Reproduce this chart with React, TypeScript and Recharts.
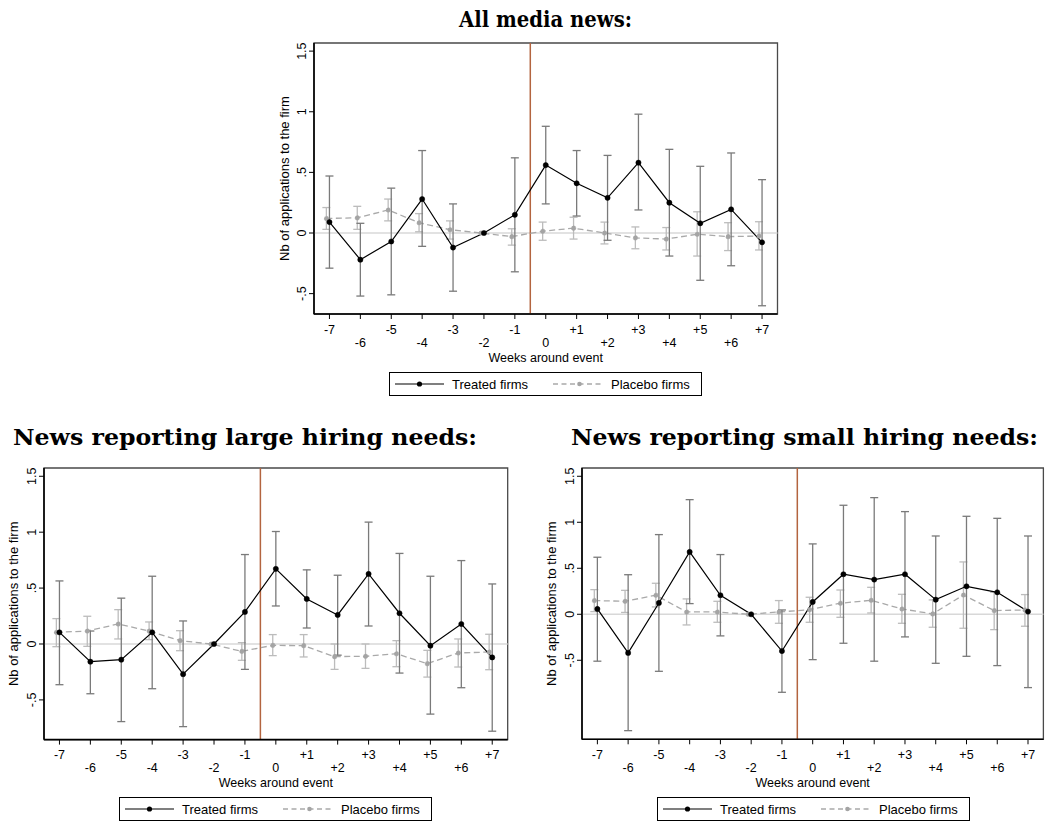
import React from 'react';
import {
  ComposedChart,
  Line,
  XAxis,
  YAxis,
  ErrorBar,
  ReferenceLine,
  ReferenceArea,
} from 'recharts';

const weeks = [-7, -6, -5, -4, -3, -2, -1, 0, 1, 2, 3, 4, 5, 6, 7];
const weekLabels = ['-7', '-6', '-5', '-4', '-3', '-2', '-1', '0', '+1', '+2', '+3', '+4', '+5', '+6', '+7'];
const yTicks = [-0.5, 0, 0.5, 1, 1.5];
const yTickLabels = ['-.5', '0', '.5', '1', '1.5'];

// All media news
const allTreated = [0.09, -0.22, -0.07, 0.28, -0.12, 0, 0.15, 0.56, 0.41, 0.29, 0.58, 0.25, 0.08, 0.195, -0.077];
const allTreatedLo = [-0.29, -0.52, -0.51, -0.11, -0.48, null, -0.32, 0.24, 0.14, -0.06, 0.19, -0.19, -0.39, -0.27, -0.6];
const allTreatedHi = [0.47, 0.08, 0.37, 0.68, 0.24, null, 0.62, 0.88, 0.68, 0.64, 0.98, 0.69, 0.55, 0.66, 0.44];
const allPlacebo = [0.12, 0.125, 0.19, 0.085, 0.027, 0, -0.03, 0.015, 0.04, 0, -0.04, -0.05, -0.01, -0.03, -0.025];
const allPlaceboLo = [0.03, 0.03, 0.1, 0.01, -0.05, null, -0.1, -0.06, -0.05, -0.09, -0.13, -0.14, -0.19, -0.145, -0.14];
const allPlaceboHi = [0.21, 0.22, 0.28, 0.16, 0.1, null, 0.035, 0.09, 0.13, 0.09, 0.05, 0.045, 0.175, 0.085, 0.093];

// Large hiring needs
const largeTreated = [0.104, -0.158, -0.14, 0.104, -0.27, 0, 0.287, 0.672, 0.403, 0.26, 0.627, 0.275, -0.015, 0.179, -0.12];
const largeTreatedLo = [-0.364, -0.445, -0.694, -0.4, -0.739, null, -0.227, 0.34, 0.143, -0.1, 0.161, -0.26, -0.627, -0.391, -0.78];
const largeTreatedHi = [0.564, 0.116, 0.41, 0.606, 0.206, null, 0.8, 1.006, 0.663, 0.615, 1.09, 0.81, 0.606, 0.746, 0.537];
const largePlacebo = [0.104, 0.116, 0.179, 0.116, 0.03, 0, -0.066, -0.012, -0.015, -0.113, -0.11, -0.087, -0.176, -0.08, -0.072];
const largePlaceboLo = [-0.024, -0.021, 0.045, 0.039, -0.06, null, -0.146, -0.104, -0.116, -0.227, -0.218, -0.203, -0.296, -0.206, -0.23];
const largePlaceboHi = [0.227, 0.248, 0.307, 0.197, 0.119, null, 0.012, 0.084, 0.084, 0, 0, 0.03, -0.057, 0.045, 0.087];

// Small hiring needs
const smallTreated = [0.058, -0.42, 0.123, 0.678, 0.207, 0, -0.4, 0.134, 0.435, 0.377, 0.435, 0.159, 0.304, 0.239, 0.029];
const smallTreatedLo = [-0.51, -1.265, -0.62, 0.116, -0.235, null, -0.848, -0.493, -0.315, -0.51, -0.246, -0.533, -0.457, -0.558, -0.797];
const smallTreatedHi = [0.62, 0.43, 0.866, 1.246, 0.649, null, 0.047, 0.765, 1.185, 1.268, 1.116, 0.851, 1.065, 1.043, 0.851];
const smallPlacebo = [0.149, 0.141, 0.207, 0.025, 0.025, 0, 0.025, 0.05, 0.12, 0.152, 0.058, 0.004, 0.21, 0.04, 0.047];
const smallPlaceboLo = [0.029, 0.02, 0.08, -0.116, -0.087, null, -0.098, -0.087, -0.033, 0.014, -0.098, -0.141, -0.152, -0.167, -0.13];
const smallPlaceboHi = [0.268, 0.26, 0.337, 0.167, 0.141, null, 0.149, 0.185, 0.264, 0.293, 0.217, 0.156, 0.569, 0.239, 0.214];

const SANS = '"Liberation Sans", Arial, Helvetica, sans-serif';
const SERIF = '"DejaVu Serif", "Liberation Serif", serif';
const EVENT_COLOR = '#b3643f';
const PLACEBO_SHIFT = -0.1;
const Y_AXIS_W = 60;
const X_AXIS_H = 52;
const TOP_PAD = 5;
const AXIS_FONT = 12.5;

const buildSeries = (vals: number[], lo: (number | null)[], hi: (number | null)[], shift: number) =>
  weeks.map((w, i) => ({
    x: w + shift,
    y: vals[i],
    err: lo[i] == null || hi[i] == null ? undefined : [vals[i] - (lo[i] as number), (hi[i] as number) - vals[i]],
  }));

// odd weeks on the first row, even weeks on the second row
const WeekTick = (props: any) => {
  const { x, y, payload } = props;
  const idx = weeks.indexOf(payload.value);
  const secondRow = Math.abs(payload.value) % 2 === 0;
  return (
    <text x={x} y={y} dy={secondRow ? 25.5 : 12.5} textAnchor="middle" fontSize={AXIS_FONT} fontFamily={SANS} fill="#000">
      {weekLabels[idx]}
    </text>
  );
};

const ValueTick = (props: any) => {
  const { x, y, payload } = props;
  const idx = yTicks.indexOf(payload.value);
  return (
    <text x={x} y={y} transform={`rotate(-90 ${x} ${y})`} textAnchor="middle" fontSize={AXIS_FONT} fontFamily={SANS} fill="#000">
      {yTickLabels[idx]}
    </text>
  );
};

type PanelProps = {
  x0: number;
  x1: number;
  y0: number;
  y1: number;
  yDomain: [number, number];
  treated: number[];
  treatedLo: (number | null)[];
  treatedHi: (number | null)[];
  placebo: number[];
  placeboLo: (number | null)[];
  placeboHi: (number | null)[];
};

const Panel = (p: PanelProps) => {
  const plotW = p.x1 - p.x0;
  const plotH = p.y1 - p.y0;
  const width = plotW + Y_AXIS_W + 2;
  const height = plotH + TOP_PAD + X_AXIS_H;
  const treatedData = buildSeries(p.treated, p.treatedLo, p.treatedHi, 0);
  const placeboData = buildSeries(p.placebo, p.placeboLo, p.placeboHi, PLACEBO_SHIFT);

  return (
    <div style={{ position: 'absolute', left: p.x0 - Y_AXIS_W, top: p.y0 - TOP_PAD }}>
      <ComposedChart width={width} height={height} margin={{ top: TOP_PAD, right: 2, bottom: 0, left: 0 }}>
        <XAxis
          type="number"
          dataKey="x"
          domain={[-7.5, 7.5]}
          ticks={weeks}
          interval={0}
          allowDataOverflow
          height={X_AXIS_H}
          tickSize={5}
          tickMargin={2}
          tick={<WeekTick />}
          axisLine={{ stroke: '#000', strokeWidth: 1.6 }}
          tickLine={{ stroke: '#000', strokeWidth: 1 }}
          label={(lp: any) => {
            const vb = lp.viewBox || {};
            return (
              <text x={vb.x + vb.width / 2} y={vb.y + 47.5} textAnchor="middle" fontSize={AXIS_FONT} fontFamily={SANS} fill="#000">
                Weeks around event
              </text>
            );
          }}
        />
        <YAxis
          type="number"
          domain={p.yDomain}
          ticks={yTicks}
          interval={0}
          allowDataOverflow
          width={Y_AXIS_W}
          tickSize={5}
          tickMargin={3}
          tick={<ValueTick />}
          axisLine={{ stroke: '#000', strokeWidth: 1.6 }}
          tickLine={{ stroke: '#000', strokeWidth: 1 }}
          label={(lp: any) => {
            const vb = lp.viewBox || {};
            const bx = vb.x + vb.width - 25.5;
            const by = vb.y + vb.height / 2;
            return (
              <text x={bx} y={by} transform={`rotate(-90 ${bx} ${by})`} textAnchor="middle" fontSize={13} fontFamily={SANS} fill="#000">
                Nb of applications to the firm
              </text>
            );
          }}
        />
        <ReferenceArea
          x1={-7.5}
          x2={7.5}
          y1={p.yDomain[0]}
          y2={p.yDomain[1]}
          fill="none"
          fillOpacity={0}
          stroke="#4a4a4a"
          strokeWidth={1.3}
          ifOverflow="visible"
        />
        <ReferenceLine y={0} stroke="#d8d8d8" strokeWidth={1.5} />
        <ReferenceLine x={-0.5} stroke={EVENT_COLOR} strokeWidth={1.5} />
        <Line
          data={placeboData}
          dataKey="y"
          type="linear"
          stroke="#a9a9a9"
          strokeWidth={1.3}
          strokeDasharray="6 3.5"
          dot={{ r: 2.3, fill: '#a4a4a4', stroke: '#a4a4a4', strokeWidth: 0.5 }}
          isAnimationActive={false}
        >
          <ErrorBar dataKey="err" direction="y" width={4} stroke="#bcbcbc" strokeWidth={1.3} />
        </Line>
        <Line
          data={treatedData}
          dataKey="y"
          type="linear"
          stroke="#000"
          strokeWidth={1.2}
          dot={{ r: 2.6, fill: '#000', stroke: '#000', strokeWidth: 0.5 }}
          isAnimationActive={false}
        >
          <ErrorBar dataKey="err" direction="y" width={4} stroke="#7a7a7a" strokeWidth={1.3} />
        </Line>
      </ComposedChart>
    </div>
  );
};

const LegendBox = ({ left, top }: { left: number; top: number }) => (
  <svg width={314} height={25} style={{ position: 'absolute', left, top }}>
    <rect x={0.5} y={0.5} width={312} height={23} fill="#fff" stroke="#000" strokeWidth={1} />
    <line x1={6} y1={12} x2={55} y2={12} stroke="#000" strokeWidth={1.2} />
    <circle cx={30.5} cy={12} r={2.6} fill="#000" />
    <text x={63} y={16.5} fontSize={13} fontFamily={SANS} fill="#000">
      Treated firms
    </text>
    <line x1={164} y1={12} x2={214} y2={12} stroke="#a9a9a9" strokeWidth={1.3} strokeDasharray="5 3.5" />
    <circle cx={190.5} cy={12} r={2.3} fill="#a4a4a4" />
    <text x={222} y={16.5} fontSize={13} fontFamily={SANS} fill="#000">
      Placebo firms
    </text>
  </svg>
);

const Title = ({ x, y, width, children }: { x: number; y: number; width: number; children: string }) => (
  <text x={x} y={y} fontSize={23} fontWeight="bold" fontFamily={SERIF} fill="#000" textLength={width} lengthAdjust="spacingAndGlyphs">
    {children}
  </text>
);

export default function App() {
  return (
    <div style={{ position: 'absolute', left: 0, top: 0, width: 1045, height: 824, overflow: 'hidden', background: '#fff' }}>
      <svg width={1045} height={824} style={{ position: 'absolute', left: 0, top: 0 }}>
        <Title x={459} y={26.5} width={173}>All media news:</Title>
        <Title x={13} y={445} width={464}>News reporting large hiring needs:</Title>
        <Title x={571} y={445} width={467}>News reporting small hiring needs:</Title>
      </svg>

      <Panel
        x0={314}
        x1={777.5}
        y0={43}
        y1={314}
        yDomain={[-0.668, 1.567]}
        treated={allTreated}
        treatedLo={allTreatedLo}
        treatedHi={allTreatedHi}
        placebo={allPlacebo}
        placeboLo={allPlaceboLo}
        placeboHi={allPlaceboHi}
      />
      <LegendBox left={389} top={371.5} />

      <Panel
        x0={44.3}
        x1={508}
        y0={467.7}
        y1={739.3}
        yDomain={[-0.855, 1.574]}
        treated={largeTreated}
        treatedLo={largeTreatedLo}
        treatedHi={largeTreatedHi}
        placebo={largePlacebo}
        placeboLo={largePlaceboLo}
        placeboHi={largePlaceboHi}
      />
      <LegendBox left={119} top={796.5} />

      <Panel
        x0={582.3}
        x1={1043.7}
        y0={468}
        y1={739.3}
        yDomain={[-1.359, 1.59]}
        treated={smallTreated}
        treatedLo={smallTreatedLo}
        treatedHi={smallTreatedHi}
        placebo={smallPlacebo}
        placeboLo={smallPlaceboLo}
        placeboHi={smallPlaceboHi}
      />
      <LegendBox left={656.7} top={796.5} />
    </div>
  );
}
